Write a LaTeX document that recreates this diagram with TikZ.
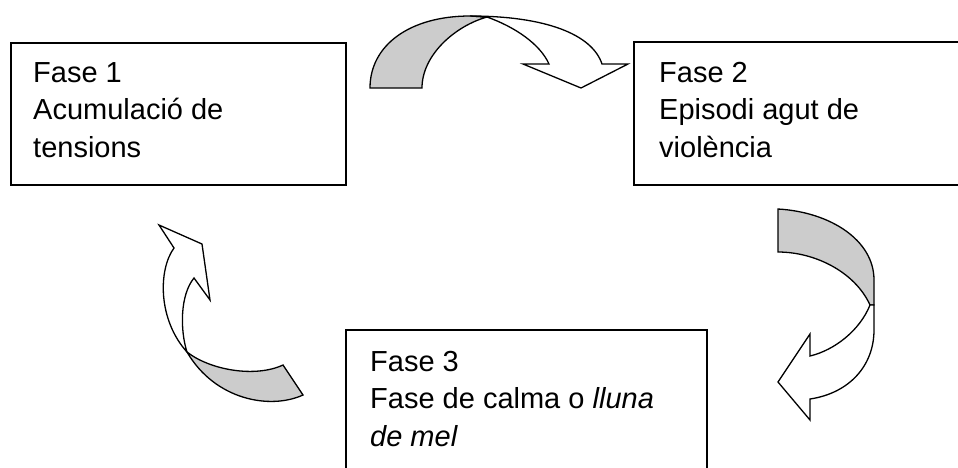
\documentclass[tikz,border=0pt]{standalone}
\usepackage{fontspec}
\setmainfont{Liberation Sans}
\usepackage{tikz}
\definecolor{bandgray}{RGB}{204,204,204}

\tikzset{
  phasebox/.style={draw, line width=1.7pt, rectangle, anchor=north west, inner sep=0pt},
  phasetext/.style={anchor=north west, inner sep=0pt, align=left,
    font=\fontsize{29}{37.5}\selectfont},
  backband/.style={draw, line width=1.3pt, fill=bandgray, line join=miter},
  frontband/.style={draw, line width=1.3pt, fill=white, line join=miter}
}

\begin{document}
\begin{tikzpicture}[x=1pt, y=-1pt]
	  \useasboundingbox (0,0) rectangle (958,467);
	  % Phase boxes
	  \node [phasebox, minimum width=335pt, minimum height=142pt] (box1) at (10,42) {};
	  \node [phasebox, minimum width=360pt, minimum height=143pt] (box2) at (633,41) {};
	  \node [phasebox, minimum width=361pt, minimum height=160pt] (box3) at (345,329) {};
	  \node [phasetext] (fase1) at (33,62) {Fase 1\\Acumulació de\\tensions};
	  \node [phasetext] (fase2) at (659,62) {Fase 2\\Episodi agut de\\violència};
	  \node [phasetext] (fase3) at (370,351) {Fase 3\\Fase de calma o \textit{lluna}\\\textit{de mel}};
	  % Top arrow
	  \draw [backband] (370,88) .. controls (370,45) and (410,16) .. (470,16) -- (487,17)
	    .. controls (455,26) and (422,55) .. (422,88) -- cycle;
	  \draw [frontband] (470,16) .. controls (545,16) and (592,34) .. (602,64) -- (628,64)
	    -- (581,88) -- (523,64) -- (549,64) .. controls (540,44) and (515,27) .. (487,17) -- cycle;
	  % Right arrow
	  \draw [backband] (778,209) .. controls (830,212) and (874,240) .. (874,280) -- (874,305)
	    -- (870,305) .. controls (855,272) and (815,252) .. (778,252) -- cycle;
	  \draw [frontband] (874,305) -- (874,330) .. controls (874,365) and (850,393) .. (810,399)
	    -- (810,420) -- (778,382) -- (810,334) -- (810,356)
	    .. controls (835,350) and (860,330) .. (870,305) -- cycle;
	  % Left arrow
	  \draw [frontband] (174,248) .. controls (158,270) and (158,320) .. (187,352)
	    .. controls (180,330) and (180,295) .. (194,278) -- (210,300) -- (202,244) -- (159,225) -- cycle;
	  \draw [backband] (187,352) .. controls (210,370) and (255,378) .. (283,365) -- (303,395)
	    .. controls (270,410) and (215,400) .. (187,352) -- cycle;
	 \end{tikzpicture}
\end{document}
